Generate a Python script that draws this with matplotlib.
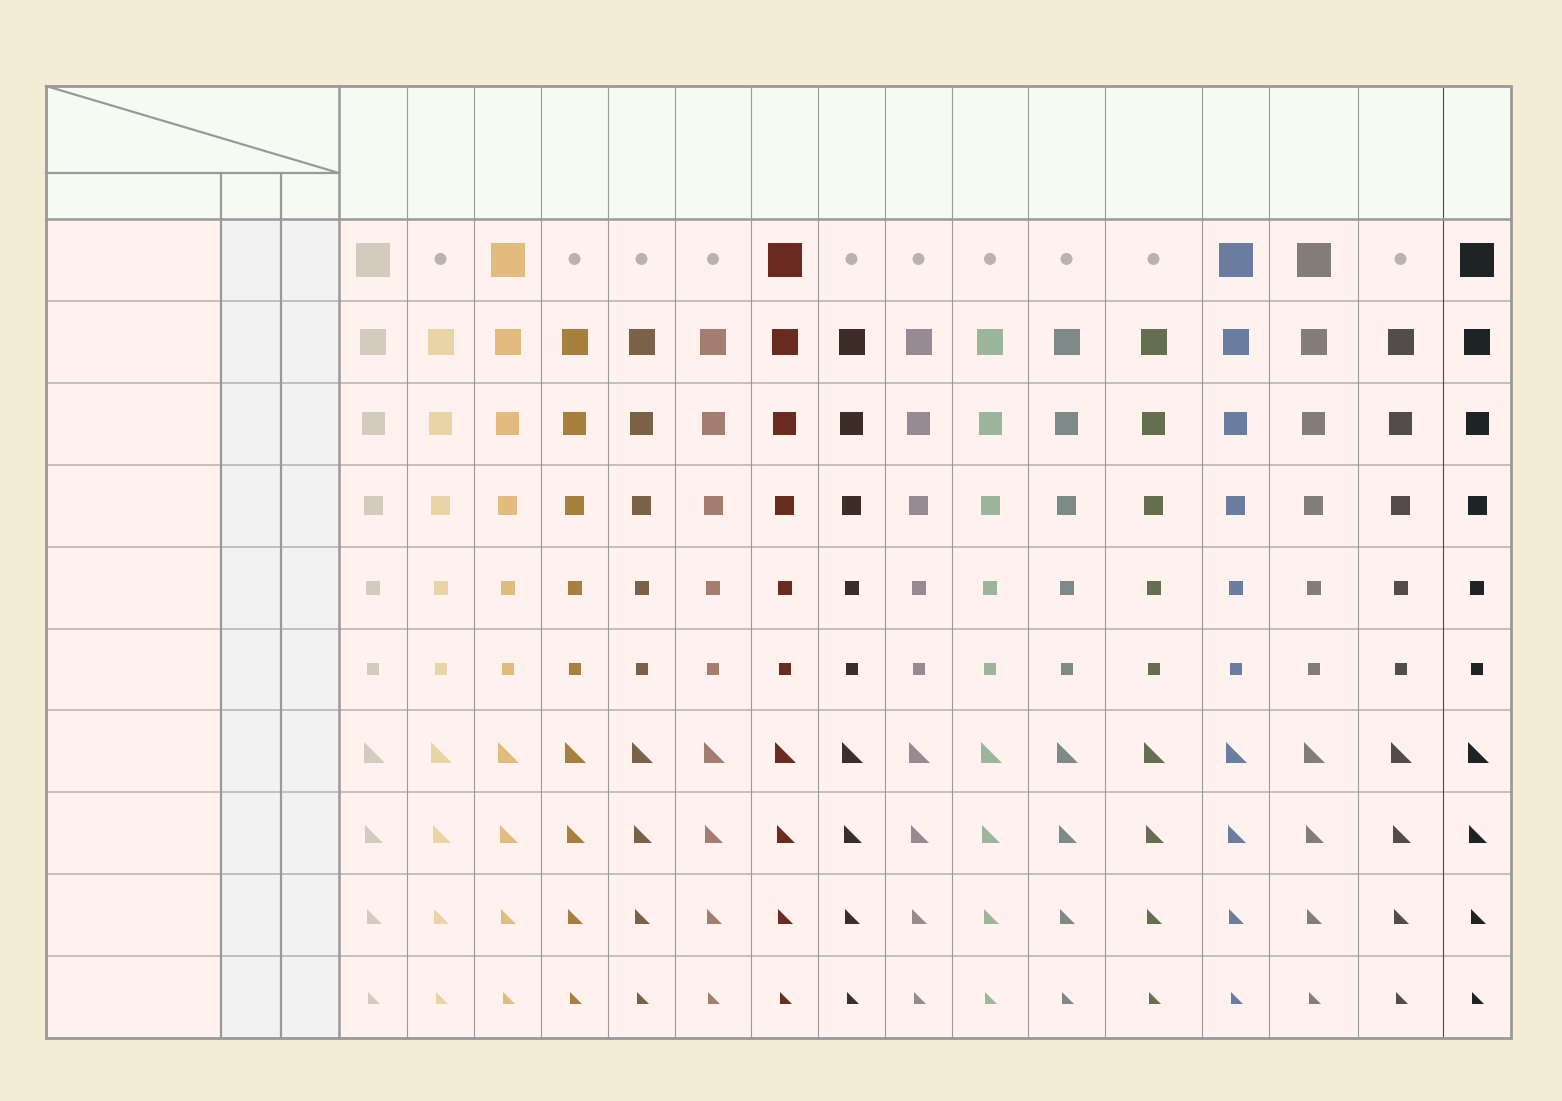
import matplotlib
matplotlib.use("Agg")
import matplotlib.pyplot as plt
from matplotlib.patches import Rectangle, Circle, Polygon

# ---------------- data ----------------
swatch_colors = ["#D3CBBD", "#E8D4A5", "#E2BB7E", "#A6803C", "#7A6249", "#A47D70",
                 "#6C2B21", "#3C2D27", "#978A93", "#9CB69C", "#7D8A88", "#646F50",
                 "#6A7DA0", "#827D78", "#524D4A", "#1E2425"]
# first row: which columns show a full swatch (1) or only a placeholder dot (0)
first_row_present = [1, 0, 1, 0, 0, 0, 1, 0, 0, 0, 0, 0, 1, 1, 0, 1]
row_shapes = ["square", "square", "square", "square", "square", "square",
              "triangle", "triangle", "triangle", "triangle"]
row_sizes = [34, 26, 23, 19, 14, 12, 21, 18, 15, 12]

# ---------------- layout (pixels) ----------------
W, H = 1562, 1101
left_col_widths = [175, 60, 58]
color_col_widths = [68, 67, 67, 67, 67, 76, 67, 67, 67, 76, 77, 97, 67, 89, 85, 68]
x0, y0 = 46, 86
header_split = 87
header_h = 133
row_h = 81.9

bg = "#F3EDD5"
header_fill = "#F5FAF2"
cell_fill = "#FFF2EE"
side_fill = "#F2F2F2"
line_dark = "#999999"
line_light = "#B5B0B0"
dot_color = "#BBB1AF"

fig = plt.figure(figsize=(W / 100, H / 100), dpi=100, facecolor=bg)
ax = fig.add_axes([0, 0, 1, 1])
ax.set_xlim(0, W)
ax.set_ylim(H, 0)
ax.axis("off")
ax.set_facecolor(bg)

# column edges
lx = [x0]
for w in left_col_widths:
    lx.append(lx[-1] + w)
cx = [lx[-1]]
for w in color_col_widths:
    cx.append(cx[-1] + w)
x_right = cx[-1]
n_rows = len(row_sizes)
y_data0 = y0 + header_h
ry = [y_data0 + i * row_h for i in range(n_rows + 1)]
y_bottom = ry[-1]

# fills
ax.add_patch(Rectangle((x0, y0), x_right - x0, header_h, facecolor=header_fill, edgecolor="none", zorder=0))
ax.add_patch(Rectangle((lx[0], y_data0), lx[1] - lx[0], y_bottom - y_data0, facecolor=cell_fill, edgecolor="none", zorder=0))
ax.add_patch(Rectangle((lx[1], y_data0), lx[3] - lx[1], y_bottom - y_data0, facecolor=side_fill, edgecolor="none", zorder=0))
ax.add_patch(Rectangle((cx[0], y_data0), x_right - cx[0], y_bottom - y_data0, facecolor=cell_fill, edgecolor="none", zorder=0))

# horizontal row lines
for y in ry[1:-1]:
    ax.plot([x0, x_right], [y, y], color=line_light, lw=1.1, zorder=2)
# vertical lines in colour area
for i, x in enumerate(cx[1:-1]):
    col = "#4A4A4A" if i == len(cx) - 3 else line_dark
    ax.plot([x, x], [y0, y_bottom], color=col, lw=0.8, zorder=2)
# left-side vertical dividers
for x in lx[1:3]:
    ax.plot([x, x], [y0 + header_split, y_bottom], color=line_dark, lw=1.6, zorder=3)
ax.plot([lx[3], lx[3]], [y0, y_bottom], color=line_dark, lw=1.8, zorder=3)
# header lines
ax.plot([x0, lx[3]], [y0 + header_split, y0 + header_split], color=line_dark, lw=1.6, zorder=3)
ax.plot([x0, lx[3]], [y0, y0 + header_split], color=line_dark, lw=1.6, zorder=3)
ax.plot([x0, x_right], [y_data0, y_data0], color=line_dark, lw=1.8, zorder=3)
# outer border
ax.add_patch(Rectangle((x0, y0), x_right - x0, y_bottom - y0, facecolor="none",
                       edgecolor=line_dark, lw=2.0, zorder=4))

# marks
for r in range(n_rows):
    cyc = (ry[r] + ry[r + 1]) / 2
    s = row_sizes[r]
    for c, color in enumerate(swatch_colors):
        cxc = (cx[c] + cx[c + 1]) / 2
        if r == 0 and not first_row_present[c]:
            ax.add_patch(Circle((cxc, cyc - 1), 6, facecolor=dot_color, edgecolor="none", zorder=5))
            continue
        if row_shapes[r] == "square":
            ax.add_patch(Rectangle((cxc - s / 2, cyc - s / 2), s, s, facecolor=color,
                                   edgecolor="none", zorder=5))
        else:
            yb = cyc + s / 2 + 1
            xl = cxc - s / 2 + 1
            ax.add_patch(Polygon([(xl, yb - s), (xl, yb), (xl + s, yb)], closed=True,
                                 facecolor=color, edgecolor="none", zorder=5))

fig.savefig("out.png", dpi=100, facecolor=bg)
